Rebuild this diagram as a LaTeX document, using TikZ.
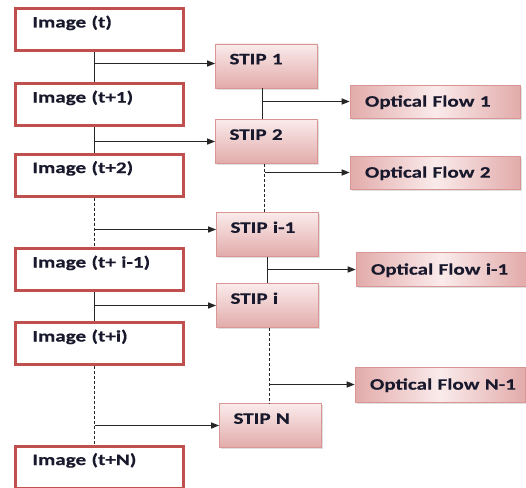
\documentclass[tikz,border=0pt]{standalone}
\usepackage{fontspec}
\newfontfamily\lblfont[FakeStretch=1.32,FakeBold=0.4]{Carlito}
\usetikzlibrary{arrows.meta,shadows,calc}
\definecolor{imgred}{HTML}{C0504D}
\definecolor{stipedge}{HTML}{D99694}
\definecolor{pinklight}{HTML}{FAEBEB}
\definecolor{pinkdark}{HTML}{E2ABAA}
\definecolor{txt}{RGB}{25,25,45}
\begin{document}
\begin{tikzpicture}[x=1pt,y=-1pt,
  lbl/.style={font=\lblfont\bfseries\fontsize{16}{18}\selectfont, text=txt},
  imgbox/.style={lbl, draw=imgred, line width=3pt, fill=white,
    minimum width=168pt, minimum height=42pt, inner xsep=17pt, inner ysep=0pt,
    text width=134pt, align=left, text height=19pt, text depth=23pt},
  stipbox/.style={lbl, draw=stipedge, line width=0.7pt,
    top color=pinklight, bottom color=pinkdark,
    drop shadow={shadow xshift=1.5pt, shadow yshift=-1.8pt, opacity=0.25},
    minimum width=102pt, minimum height=44pt, inner xsep=14pt, inner ysep=0pt,
    text width=74pt, align=left, text height=20.3pt, text depth=23.7pt},
  ofbox/.style={lbl, draw=stipedge, line width=0.6pt,
    left color=pinkdark, right color=pinkdark, middle color=pinklight,
    drop shadow={shadow xshift=1.5pt, shadow yshift=-1.8pt, opacity=0.25},
    minimum width=170pt, minimum height=33pt, inner xsep=15pt, inner ysep=0pt,
    text width=140pt, align=left, text height=12pt, text depth=1.7pt},
  conn/.style={line width=1.3pt, black!85},
  dconn/.style={conn, dash pattern=on 3pt off 2pt},
  arr/.style={conn, -{Stealth[length=8pt, width=6pt, inset=0pt]}}
]
\useasboundingbox (0,0) rectangle (526,487);

% image column
\node[imgbox] (i0) at (99.5,29.5)  {Image (t)};
\node[imgbox] (i1) at (99.5,104.5) {Image (t+1)};
\node[imgbox] (i2) at (99.5,175)   {Image (t+2)};
\node[imgbox] (i3) at (99.5,269.5) {Image (t+ i-1)};
\node[imgbox] (i4) at (99.5,343.5) {Image (t+i)};
\node[imgbox] (i5) at (99.5,467)   {Image (t+N)};

% STIP column
\node[stipbox] (s1) at (266.5,66)    {STIP 1};
\node[stipbox] (s2) at (266.5,141.5) {STIP 2};
\node[stipbox] (s3) at (267.5,234.5) {STIP i-1};
\node[stipbox] (s4) at (267.5,305.5) {STIP i};
\node[stipbox] (s5) at (270.5,425.5) {STIP N};

% optical flow column
\node[ofbox] (o1) at (435,101.5) {\mbox{Optical Flow 1}};
\node[ofbox] (o2) at (435,172.5) {\mbox{Optical Flow 2}};
\node[ofbox, minimum height=34pt] (o3) at (441,269.5) {\mbox{Optical Flow i-1}};
\node[ofbox, minimum height=35pt] (o4) at (440,384.5) {\mbox{Optical Flow N-1}};

% x positions of the vertical trunks
\coordinate (L)  at (94.5,0);
\coordinate (R1) at (262.5,0);
\coordinate (R2) at (264.5,0);
\coordinate (R3) at (267.5,0);
\coordinate (R4) at (269.5,0);

% image trunk
\draw[conn]  (i0.south -| L) -- (i1.north -| L);
\draw[conn]  (i1.south -| L) -- (i2.north -| L);
\draw[dconn] (i2.south -| L) -- (i3.north -| L);
\draw[conn]  (i3.south -| L) -- (i4.north -| L);
\draw[dconn] (i4.south -| L) -- (i5.north -| L);

% images feed the STIP detectors
\coordinate (e1) at ($(s1.west)+(0,-2.5)$);
\coordinate (e3) at ($(s3.west)+(0,-5)$);
\draw[arr] (e1 -| L) -- (e1);
\draw[arr] (s2.west -| L) -- (s2.west);
\draw[arr] (e3 -| L) -- (e3);
\draw[arr] (s4.west -| L) -- (s4.west);
\draw[arr] (s5.west -| L) -- (s5.west);

% STIP trunk
\draw[conn]  (s1.south -| R1) -- (s2.north -| R1);
\draw[dconn] (s2.south -| R2) -- (s3.north -| R2);
\draw[conn]  (s3.south -| R3) -- (s4.north -| R3);
\draw[dconn] (s4.south -| R4) -- (s5.north -| R4);

% STIP pairs produce optical flow
\draw[arr] (o1.west -| R1) -- (o1.west);
\draw[arr] (o2.west -| R2) -- (o2.west);
\draw[arr] (o3.west -| R3) -- (o3.west);
\draw[arr] (o4.west -| R4) -- (o4.west);
\end{tikzpicture}
\end{document}
